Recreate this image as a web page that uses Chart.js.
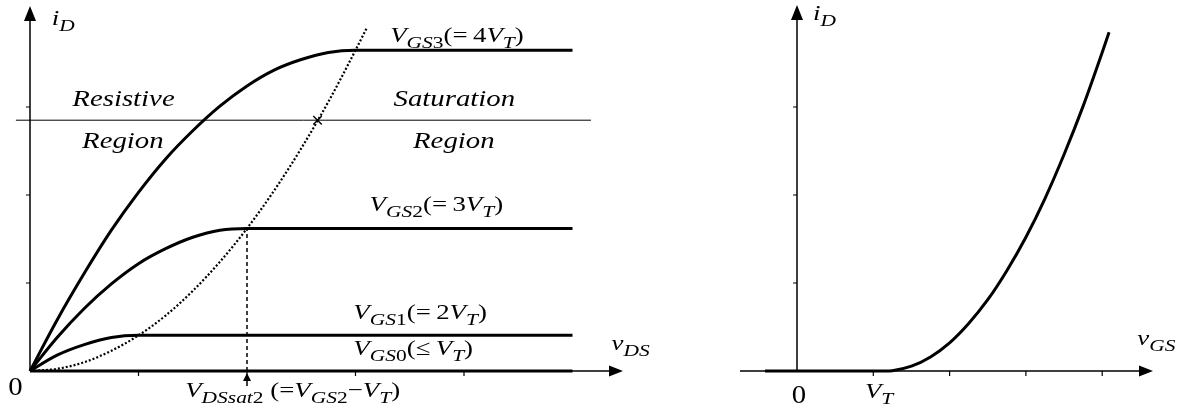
<!DOCTYPE html>
<html>
<head>
<meta charset="utf-8">
<script src="https://cdn.jsdelivr.net/npm/chart.js@4"></script>
<style>
  body { margin: 0; background: #fff; }
  #left { position: absolute; left: 0; top: 0; }
  #right { position: absolute; left: 740px; top: 0; }
</style>
</head>
<body>
<canvas id="left" width="700" height="416"></canvas>
<canvas id="right" width="445" height="416"></canvas>
<script>
// output characteristics, x in units of VT, y in tick units
const gs3X = [0, 0.25, 0.5, 0.75, 1, 1.25, 1.5, 1.75, 2, 2.25, 2.5, 2.75, 3, 5];
const gs3Y = [0, 0.58, 1.11, 1.6, 2.03, 2.41, 2.73, 3.01, 3.24, 3.42, 3.54, 3.62, 3.645, 3.645];
const gs2X = [0, 0.25, 0.5, 0.75, 1, 1.25, 1.5, 1.75, 2, 5];
const gs2Y = [0, 0.38, 0.71, 0.99, 1.22, 1.39, 1.52, 1.6, 1.62, 1.62];
const gs1X = [0, 0.25, 0.5, 0.75, 1, 5];
const gs1Y = [0, 0.18, 0.3, 0.38, 0.405, 0.405];
const gs0X = [0, 5];
const gs0Y = [0, 0];
const edgeX = [0, 0.25, 0.5, 0.75, 1, 1.25, 1.5, 1.75, 2, 2.25, 2.5, 2.75, 3, 3.1];
const edgeY = [0, 0.025, 0.1, 0.23, 0.405, 0.63, 0.91, 1.24, 1.62, 2.05, 2.53, 3.06, 3.645, 3.89];
const dividerX = [-0.13, 5.17];
const dividerY = [2.85, 2.85];
const satX = [2, 2];
const satY = [0, 1.62];
const crossX = [2.65];
const crossY = [2.85];
const dsTicks = [1, 2, 3, 4];
const idTicks = [1, 2, 3];

// transfer characteristic
const vgsX = [-0.42, 1.15, 1.25, 1.5, 1.75, 2, 2.25, 2.5, 2.75, 3, 3.25, 3.5, 3.75, 4, 4.09];
const vgsY = [0, 0, 0.004, 0.055, 0.16, 0.32, 0.54, 0.81, 1.14, 1.52, 1.96, 2.46, 3.01, 3.62, 3.85];
const gsTicks = [1, 2, 3, 4];

const pts = (xs, ys) => xs.map((x, i) => ({ x: x, y: ys[i] }));

const curve = (xs, ys, extra) =>
  Object.assign(
    {
      data: pts(xs, ys),
      borderColor: "#000",
      borderWidth: 3,
      pointRadius: 0,
      fill: false,
      clip: false,
      cubicInterpolationMode: "monotone",
    },
    extra || {}
  );

// rich text: parts = [text, flags] ; flags 'i' italic, 's' subscript
const drawText = (ctx, px, py, parts, size, sx) => {
  ctx.save();
  ctx.translate(px, py);
  ctx.scale(sx, 1);
  ctx.fillStyle = "#000";
  ctx.textBaseline = "alphabetic";
  let cx = 0;
  parts.forEach(([t, f]) => {
    const sub = f.includes("s");
    const fs = sub ? size * 0.8 : size;
    ctx.font = `${f.includes("i") ? "italic " : ""}${fs}px "Liberation Serif", "Times New Roman", serif`;
    ctx.fillText(t, cx, sub ? size * 0.27 : 0);
    cx += ctx.measureText(t).width;
  });
  ctx.restore();
};

const arrowHead = (ctx, x, y, dir, len, half) => {
  ctx.beginPath();
  if (dir === "up") {
    ctx.moveTo(x, y);
    ctx.lineTo(x - half, y + len);
    ctx.lineTo(x + half, y + len);
  } else {
    ctx.moveTo(x, y);
    ctx.lineTo(x - len, y - half);
    ctx.lineTo(x - len, y + half);
  }
  ctx.closePath();
  ctx.fill();
};

const drawAxes = (chart, spec) => {
  const { ctx } = chart;
  const sx = chart.scales.x;
  const sy = chart.scales.y;
  const x0 = sx.getPixelForValue(0);
  const y0 = sy.getPixelForValue(0);
  ctx.save();
  ctx.strokeStyle = "#000";
  ctx.fillStyle = "#000";
  ctx.lineWidth = 1.5;
  const yTip = sy.getPixelForValue(spec.yTop);
  const xTip = sx.getPixelForValue(spec.xEnd);
  ctx.beginPath();
  ctx.moveTo(x0, y0);
  ctx.lineTo(x0, yTip + 10);
  ctx.moveTo(sx.getPixelForValue(spec.xStart), y0);
  ctx.lineTo(xTip - 10, y0);
  ctx.stroke();
  arrowHead(ctx, x0, yTip, "up", 15, 6);
  arrowHead(ctx, xTip, y0, "right", 14, 5.5);
  ctx.lineWidth = 1.2;
  ctx.beginPath();
  spec.yTicks.forEach((v) => {
    const p = sy.getPixelForValue(v);
    ctx.moveTo(x0 - 4, p);
    ctx.lineTo(x0, p);
  });
  spec.xTicks.forEach((u) => {
    const p = sx.getPixelForValue(u);
    ctx.moveTo(p, y0);
    ctx.lineTo(p, y0 + 5);
  });
  ctx.stroke();
  ctx.restore();
};

const drawLabels = (chart, labels) => {
  const sx = chart.scales.x;
  const sy = chart.scales.y;
  labels.forEach((l) => {
    drawText(chart.ctx, sx.getPixelForValue(l.x), sy.getPixelForValue(l.y), l.parts, l.size || 22, l.sx || 1.22);
  });
};

const V = ["V", "i"];
const T = ["T", "is"];

const leftLabels = [
  { x: 0.2, y: 3.93, parts: [["i", "i"], ["D", "is"]] },
  { x: 3.32, y: 3.74, parts: [V, ["GS", "is"], ["3", "s"], ["(=\u20094", ""], V, T, [")", ""]] },
  { x: 0.39, y: 3.01, parts: [["Resistive", "i"]], size: 24, sx: 1.2 },
  { x: 0.48, y: 2.53, parts: [["Region", "i"]], size: 24, sx: 1.2 },
  { x: 3.35, y: 3.01, parts: [["Saturation", "i"]], size: 24, sx: 1.2 },
  { x: 3.53, y: 2.53, parts: [["Region", "i"]], size: 24, sx: 1.2 },
  { x: 3.13, y: 1.82, parts: [V, ["GS", "is"], ["2", "s"], ["(=\u20093", ""], V, T, [")", ""]] },
  { x: 2.98, y: 0.59, parts: [V, ["GS", "is"], ["1", "s"], ["(=\u20092", ""], V, T, [")", ""]] },
  { x: 2.98, y: 0.18, parts: [V, ["GS", "is"], ["0", "s"], ["(\u2264\u2009", ""], V, T, [")", ""]] },
  { x: 5.36, y: 0.24, parts: [["v", "i"], ["DS", "is"]] },
  { x: -0.2, y: -0.27, parts: [["0", ""]], size: 25, sx: 1.15 },
  {
    x: 1.43,
    y: -0.3,
    parts: [V, ["DSsat", "is"], ["2", "s"], [" (=", ""], V, ["GS", "is"], ["2", "s"], ["\u2212", ""], V, T, [")", ""]],
  },
];

const rightLabels = [
  { x: 0.21, y: 3.99, parts: [["i", "i"], ["D", "is"]] },
  { x: 4.46, y: 0.3, parts: [["v", "i"], ["GS", "is"]] },
  { x: -0.07, y: -0.36, parts: [["0", ""]], size: 25, sx: 1.15 },
  { x: 0.89, y: -0.31, parts: [V, T] },
];

const baseOptions = (xmin, xmax) => ({
  responsive: false,
  animation: false,
  devicePixelRatio: 1,
  layout: { padding: 0, autoPadding: false },
  plugins: { legend: { display: false }, tooltip: { enabled: false } },
  scales: {
    x: { type: "linear", min: xmin, max: xmax, display: false },
    y: { type: "linear", min: -45 / 88, max: 371 / 88, display: false },
  },
});

const leftChart = new Chart(document.getElementById("left"), {
  type: "line",
  data: {
    datasets: [
      curve(dividerX, dividerY, { borderWidth: 1, cubicInterpolationMode: "default" }),
      curve(edgeX, edgeY, { borderWidth: 2.2, borderDash: [2, 2] }),
      curve(satX, satY, { borderWidth: 1.5, borderDash: [4, 3], cubicInterpolationMode: "default" }),
      curve(gs3X, gs3Y),
      curve(gs2X, gs2Y),
      curve(gs1X, gs1Y),
      curve(gs0X, gs0Y),
      {
        data: pts(crossX, crossY),
        showLine: false,
        pointStyle: "crossRot",
        pointRadius: 6,
        pointBorderWidth: 1.4,
        pointBorderColor: "#000",
        clip: false,
      },
    ],
  },
  options: baseOptions(-30 / 108.5, 670 / 108.5),
  plugins: [
    {
      id: "leftAxes",
      beforeDatasetsDraw: (chart) =>
        drawAxes(chart, { yTop: 365 / 88, xStart: 0, xEnd: 593 / 108.5, yTicks: idTicks, xTicks: dsTicks }),
      afterDatasetsDraw: (chart) => {
        const { ctx } = chart;
        const px = chart.scales.x.getPixelForValue(satX[0]);
        const py = chart.scales.y.getPixelForValue(0);
        ctx.save();
        ctx.strokeStyle = "#000";
        ctx.fillStyle = "#000";
        ctx.lineWidth = 1.5;
        ctx.beginPath();
        ctx.moveTo(px, py + 8);
        ctx.lineTo(px, py + 15);
        ctx.stroke();
        arrowHead(ctx, px, py + 2, "up", 8, 4);
        ctx.restore();
        drawLabels(chart, leftLabels);
      },
    },
  ],
});

const rightChart = new Chart(document.getElementById("right"), {
  type: "line",
  data: { datasets: [curve(vgsX, vgsY)] },
  options: baseOptions(-57 / 76.3, 388 / 76.3),
  plugins: [
    {
      id: "rightAxes",
      beforeDatasetsDraw: (chart) =>
        drawAxes(chart, { yTop: 366 / 88, xStart: -57 / 76.3, xEnd: 356 / 76.3, yTicks: idTicks, xTicks: gsTicks }),
      afterDatasetsDraw: (chart) => drawLabels(chart, rightLabels),
    },
  ],
});
</script>
</body>
</html>
